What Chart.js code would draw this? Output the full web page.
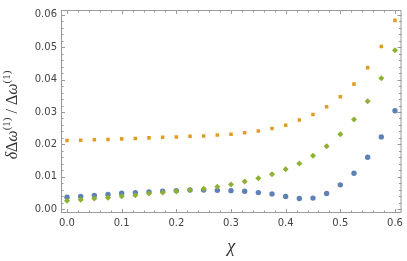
<!DOCTYPE html>
<html>
<head>
<meta charset="utf-8">
<script src="https://cdn.jsdelivr.net/npm/chart.js@4/dist/chart.umd.min.js"></script>
<style>
  html, body { margin: 0; padding: 0; background: #fff; }
  canvas { display: block; }
</style>
</head>
<body>
<canvas id="chiChart" width="407" height="261"></canvas>
<script>
// valores
const chi = [0, 0.025, 0.05, 0.075, 0.1, 0.125, 0.15, 0.175, 0.2, 0.225, 0.25, 0.275, 0.3,
             0.325, 0.35, 0.375, 0.4, 0.425, 0.45, 0.475, 0.5, 0.525, 0.55, 0.575, 0.6];
const blueVals = [0.0037, 0.0039, 0.0042, 0.0045, 0.0049, 0.0051, 0.0053, 0.0055, 0.0057, 0.0059, 0.0059, 0.0058, 0.0057,
                  0.0055, 0.0051, 0.0047, 0.0039, 0.0033, 0.0034, 0.0048, 0.0075, 0.0111, 0.0160, 0.0223, 0.0304];
const orangeVals = [0.0212, 0.0213, 0.0214, 0.0215, 0.0217, 0.0218, 0.0220, 0.0222, 0.0223, 0.0225, 0.0226, 0.0229, 0.0231,
                    0.0236, 0.0241, 0.0249, 0.0259, 0.0275, 0.0292, 0.0316, 0.0347, 0.0386, 0.0437, 0.0502, 0.0583];
const greenVals = [0.0026, 0.0029, 0.0033, 0.0035, 0.0040, 0.0043, 0.0048, 0.0051, 0.0055, 0.0059, 0.0063, 0.0069, 0.0076,
                   0.0085, 0.0095, 0.0108, 0.0123, 0.0141, 0.0165, 0.0194, 0.0231, 0.0277, 0.0333, 0.0404, 0.0491];
const xTicks = [0, 0.1, 0.2, 0.3, 0.4, 0.5, 0.6];
const yTicks = [0, 0.01, 0.02, 0.03, 0.04, 0.05, 0.06];

const toPoints = vals => vals.map((v, i) => ({ x: chi[i], y: v }));

// marco con marcas hacia dentro, estilo Mathematica
const framePlugin = {
  id: 'frame',
  afterDatasetsDraw(chart) {
    const { ctx, chartArea: a, scales } = chart;
    const xs = scales.x, ys = scales.y;
    ctx.save();
    ctx.strokeStyle = '#9a9a9a';
    ctx.lineWidth = 1;
    ctx.strokeRect(a.left + 0.5, a.top + 0.5, a.right - a.left - 1, a.bottom - a.top - 1);
    ctx.beginPath();
    // eje x: mayores cada 0.1, menores cada 0.02
    for (let k = 0; k <= 30; k++) {
      const v = k * 0.02;
      const px = Math.round(xs.getPixelForValue(v)) + 0.5;
      const len = k % 5 === 0 ? 4 : 2.5;
      ctx.moveTo(px, a.bottom); ctx.lineTo(px, a.bottom - len);
      ctx.moveTo(px, a.top); ctx.lineTo(px, a.top + len);
    }
    // eje y: mayores cada 0.01, menores cada 0.002
    for (let k = 0; k <= 30; k++) {
      const v = k * 0.002;
      const py = Math.round(ys.getPixelForValue(v)) + 0.5;
      const len = k % 5 === 0 ? 4 : 2.5;
      ctx.moveTo(a.left, py); ctx.lineTo(a.left + len, py);
      ctx.moveTo(a.right, py); ctx.lineTo(a.right - len, py);
    }
    ctx.stroke();
    ctx.restore();
  }
};

// título del eje y con superíndices de verdad
const yTitlePlugin = {
  id: 'yTitle',
  afterDraw(chart) {
    const { ctx } = chart;
    const big = 16, small = 11;
    const parts = [
      { t: 'δ', f: `italic ${big}px "Liberation Serif"`, dy: 0 },
      { t: 'Δ', f: `${big}px "Liberation Serif"`, dy: 0 },
      { t: 'ω', f: `italic ${big}px "Liberation Serif"`, dy: 0 },
      { t: '(1)', f: `${small}px "Liberation Serif"`, dy: -7 },
      { t: ' / ', f: `${big}px "Liberation Serif"`, dy: 0 },
      { t: 'Δ', f: `${big}px "Liberation Serif"`, dy: 0 },
      { t: 'ω', f: `italic ${big}px "Liberation Serif"`, dy: 0 },
      { t: '(1)', f: `${small}px "Liberation Serif"`, dy: -7 }
    ];
    ctx.save();
    let total = 0;
    parts.forEach(p => { ctx.font = p.f; p.w = ctx.measureText(p.t).width; total += p.w; });
    ctx.translate(17, 115);
    ctx.rotate(-Math.PI / 2);
    ctx.fillStyle = '#333';
    ctx.textBaseline = 'alphabetic';
    let x = -total / 2;
    parts.forEach(p => { ctx.font = p.f; ctx.fillText(p.t, x, p.dy); x += p.w; });
    ctx.restore();
  }
};

const ctx = document.getElementById('chiChart').getContext('2d');
new Chart(ctx, {
  type: 'scatter',
  data: {
    datasets: [
      { data: toPoints(blueVals), pointStyle: 'circle', pointRadius: 2.7,
        backgroundColor: 'rgb(94,129,181)', borderWidth: 0, order: 3 },
      { data: toPoints(orangeVals), pointStyle: 'rect', pointRadius: 2.5,
        backgroundColor: 'rgb(225,156,36)', borderWidth: 0, order: 2 },
      { data: toPoints(greenVals), pointStyle: 'rectRot', pointRadius: 3,
        backgroundColor: 'rgb(143,176,50)', borderWidth: 0, order: 1 }
    ]
  },
  options: {
    responsive: false,
    animation: false,
    layout: { padding: { top: 1, right: 3, left: 0, bottom: 0 } },
    plugins: { legend: { display: false }, tooltip: { enabled: false } },
    scales: {
      x: {
        type: 'linear',
        min: -0.011,
        max: 0.612,
        grid: { display: false, drawTicks: false },
        border: { display: false },
        afterBuildTicks: s => { s.ticks = xTicks.map(v => ({ value: v })); },
        afterFit: s => { s.height = 48; },
        ticks: {
          padding: 4,
          color: '#444',
          font: { family: 'DejaVu Sans', size: 10 },
          callback: v => v.toFixed(1)
        },
        title: {
          display: true,
          text: 'χ',
          color: '#333',
          font: { family: 'Liberation Serif', size: 18, style: 'italic' },
          padding: { top: 0, bottom: 3 }
        }
      },
      y: {
        type: 'linear',
        min: -0.0012,
        max: 0.0615,
        grid: { display: false, drawTicks: false },
        border: { display: false },
        afterBuildTicks: s => { s.ticks = yTicks.map(v => ({ value: v })); },
        afterFit: s => { s.width = 61; },
        ticks: {
          padding: 4,
          color: '#444',
          font: { family: 'DejaVu Sans', size: 10 },
          callback: v => v.toFixed(2)
        }
      }
    }
  },
  plugins: [framePlugin, yTitlePlugin]
});
</script>
</body>
</html>
